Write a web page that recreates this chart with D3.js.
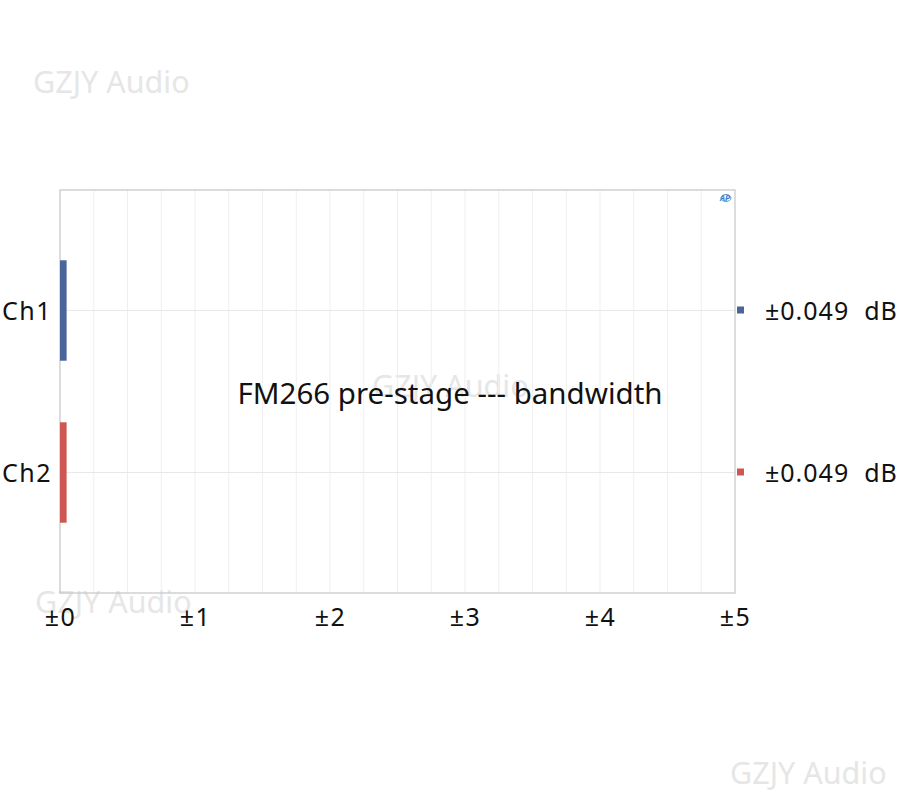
<!DOCTYPE html>
<html><head><meta charset="utf-8">
<script src="https://cdn.jsdelivr.net/npm/d3@7/dist/d3.min.js"></script>
<style>body{margin:0;background:#fff;} svg{display:block;}</style>
</head><body>
<svg id="c" width="900" height="800"></svg>
<script>
const categories = ["Ch1", "Ch2"];
const values = [0.049, 0.049];
const colors = ["#4a6599", "#cc5753"];
const legendLabels = ["±0.049  dB", "±0.049  dB"];
const tickValues = [0, 1, 2, 3, 4, 5];
const tickLabels = ["±0", "±1", "±2", "±3", "±4", "±5"];
const title = "FM266 pre-stage --- bandwidth";
const watermark = "GZJY Audio";

const svg = d3.select("#c");
const font = "'Noto Sans', 'Open Sans', sans-serif";
const m = {l: 60, r: 735, t: 190, b: 593};
const x = d3.scaleLinear().domain([0, 5]).range([m.l, m.r]);
const y = d3.scalePoint().domain(categories).range([m.t, m.b]).padding(0.744);
const barH = y.step() * 0.62;

// watermarks (behind)
const wm = [[33, 93], [730, 784], [372, 397], [35, 613]];
svg.selectAll("text.wm").data(wm).join("text").attr("class", "wm")
  .attr("x", d => d[0]).attr("y", d => d[1]).attr("font-family", font)
  .attr("font-size", 30.5).attr("fill", "#e6e6e6").text(watermark);

// vertical grid every 0.25
const grid = d3.range(0.25, 5, 0.25);
svg.selectAll("line.vg").data(grid).join("line").attr("class", "vg")
  .attr("x1", d => x(d)).attr("x2", d => x(d)).attr("y1", m.t).attr("y2", m.b)
  .attr("stroke", "#efefef").attr("stroke-width", 1);
svg.selectAll("line.hg").data(categories).join("line").attr("class", "hg")
  .attr("x1", m.l).attr("x2", m.r).attr("y1", d => y(d)).attr("y2", d => y(d))
  .attr("stroke", "#e8e8e8").attr("stroke-width", 1);

// frame
svg.append("rect").attr("x", m.l).attr("y", m.t).attr("width", m.r - m.l).attr("height", m.b - m.t)
  .attr("fill", "none").attr("stroke", "#c9c9c9").attr("stroke-width", 1.3);

// bars
svg.selectAll("rect.bar").data(categories).join("rect").attr("class", "bar")
  .attr("x", x(0)).attr("y", d => y(d) - barH / 2)
  .attr("width", (d, i) => x(values[i]) - x(0)).attr("height", barH)
  .attr("fill", (d, i) => colors[i]);

// category labels
svg.selectAll("text.cat").data(categories).join("text").attr("class", "cat")
  .attr("x", 52).attr("y", d => y(d) + 1).attr("dy", "0.35em").attr("text-anchor", "end")
  .attr("font-family", font).attr("font-size", 25).attr("letter-spacing", 1.5)
  .attr("fill", "#111").text(d => d);

// x axis labels
const xAxis = d3.axisBottom(x).tickValues(tickValues).tickSize(0).tickPadding(15)
  .tickFormat((d, i) => tickLabels[i]);
const ga = svg.append("g").attr("transform", `translate(0,${m.b})`).call(xAxis);
ga.select(".domain").remove();
ga.selectAll("text").attr("font-family", font).attr("font-size", 25).attr("fill", "#111")
  .attr("letter-spacing", 1.5);

// legend
svg.selectAll("rect.lg").data(categories).join("rect").attr("class", "lg")
  .attr("x", 737).attr("y", d => y(d) - 4).attr("width", 7).attr("height", 7)
  .attr("fill", (d, i) => colors[i]);
svg.selectAll("text.lg").data(categories).join("text").attr("class", "lg")
  .attr("x", 765).attr("y", d => y(d) + 1).attr("dy", "0.35em")
  .attr("font-family", font).attr("font-size", 25).attr("letter-spacing", 1)
  .attr("fill", "#111")
  .attr("xml:space", "preserve").style("white-space", "pre")
  .text((d, i) => legendLabels[i]);

// AP logo
svg.append("text").attr("x", 725).attr("y", 201).attr("text-anchor", "middle")
  .attr("font-family", font).attr("font-size", 8).attr("font-style", "italic")
  .attr("font-weight", "bold").attr("fill", "#3a7fc8").text("AP");
svg.append("ellipse").attr("cx", 726).attr("cy", 198).attr("rx", 5).attr("ry", 3.5)
  .attr("fill", "none").attr("stroke", "#3a7fc8").attr("stroke-width", 0.8);

// title
svg.append("text").attr("x", 450).attr("y", 404).attr("text-anchor", "middle")
  .attr("font-family", font).attr("font-size", 29.5).attr("fill", "#111").text(title);
</script>
</body></html>
